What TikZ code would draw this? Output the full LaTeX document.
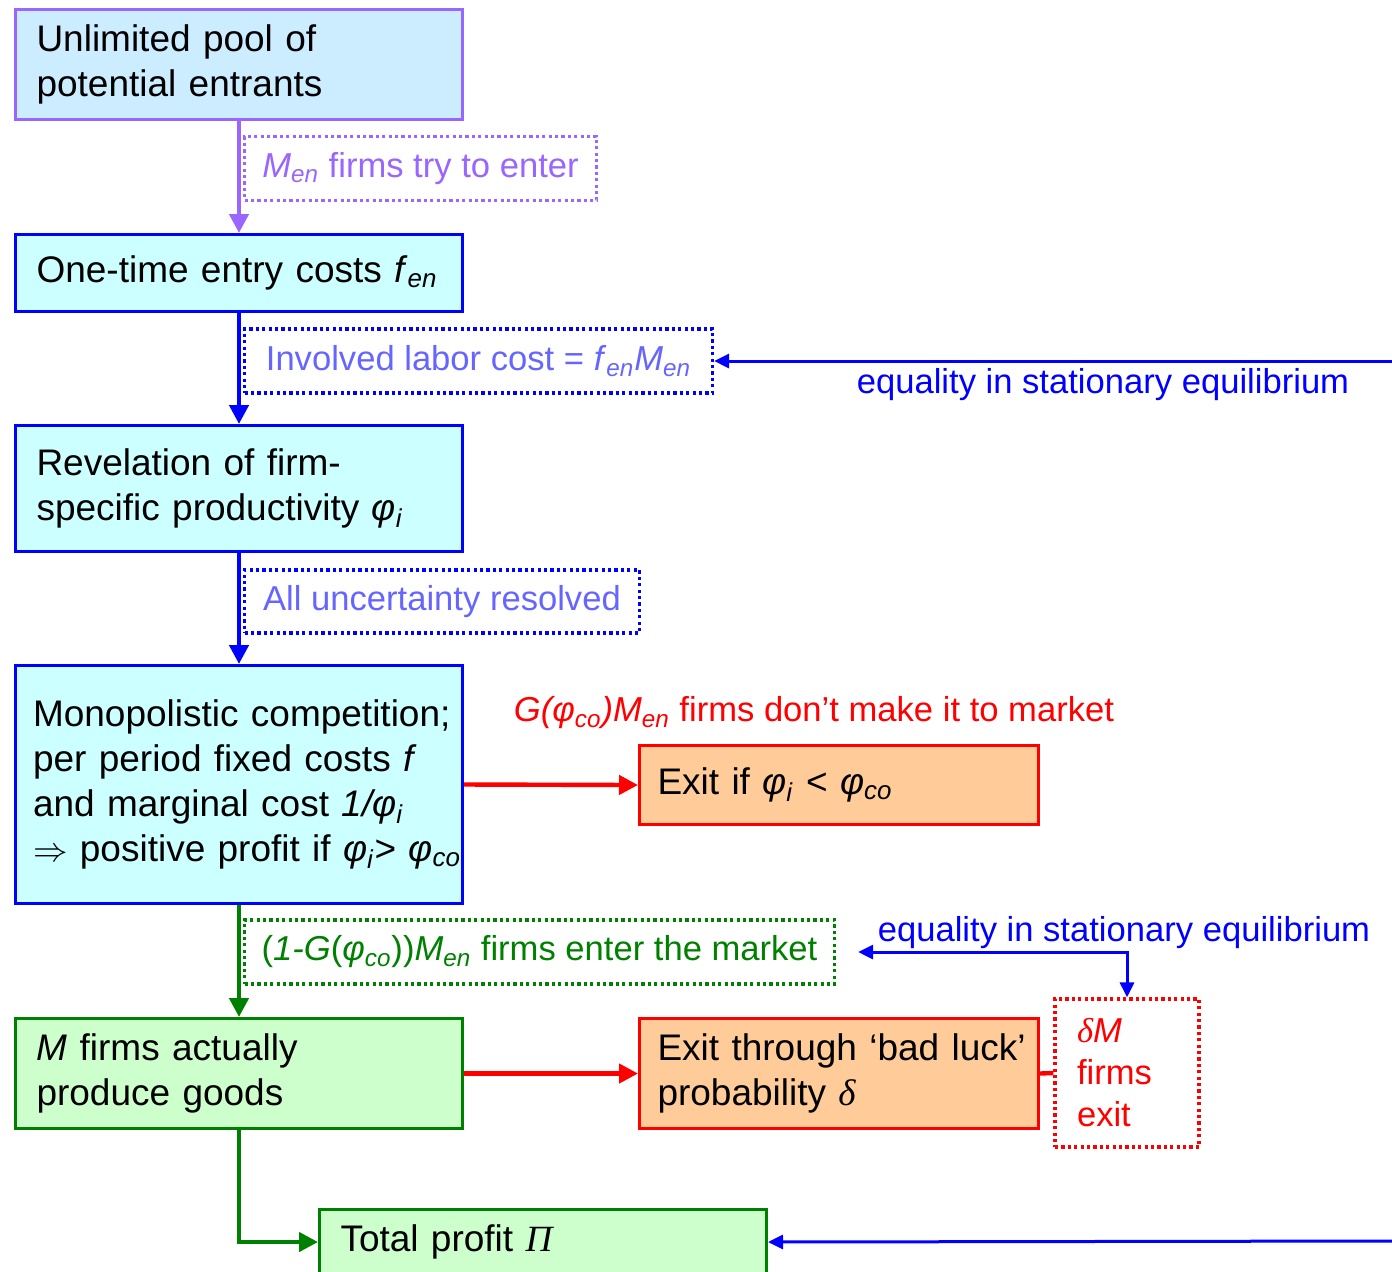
\documentclass[tikz,border=0pt]{standalone}
\usepackage{fontspec}
\setmainfont{Liberation Sans}
\newfontfamily\symfont{Liberation Serif}
\usetikzlibrary{arrows.meta}
\definecolor{lilac}{RGB}{153,102,255}
\definecolor{skyfill}{RGB}{204,236,255}
\definecolor{cyanfill}{RGB}{204,255,255}
\definecolor{mintfill}{RGB}{204,255,204}
\definecolor{peach}{RGB}{255,204,153}
\definecolor{paleblue}{RGB}{102,102,255}
\definecolor{leaf}{RGB}{0,128,0}
\newcommand{\idx}[1]{\textsubscript{\textit{#1}}}
\begin{document}
\begin{tikzpicture}[x=0.5pt,y=-0.5pt,
  stage/.style={draw,line width=1.5pt,minimum width=223.5pt,text width=202.5pt,inner xsep=10.5pt,align=left,font=\fontsize{18.5}{22.5}\selectfont},
  outcome/.style={stage,draw=red,fill=peach,minimum width=199.5pt,text width=181.5pt,inner xsep=9pt},
  note/.style={draw,line width=1.6pt,dash pattern=on 1.6pt off 1.6pt,inner xsep=0pt,font=\fontsize{17.3}{21}\selectfont},
  flow/.style={line width=2.2pt,-{Triangle[length=9.5pt,width=9.5pt]}},
  link/.style={line width=1.5pt,blue,-{Triangle[length=7.5pt,width=7pt]}}]
\useasboundingbox (0,0) rectangle (1392,1271);

\node[stage,draw=lilac,fill=skyfill,minimum height=55pt] (pool) at (239,64.5) {Unlimited pool of\\potential entrants};
\node[stage,draw=blue,fill=cyanfill,minimum height=38.5pt] (entry) at (239,273) {One-time entry costs \textit{f}\idx{en}};
\node[stage,draw=blue,fill=cyanfill,minimum height=63pt] (reveal) at (239,488.5) {Revelation of firm-\\specific productivity \textit{φ}\idx{i}};
\node[stage,draw=blue,fill=cyanfill,minimum height=119pt,text width=206pt,inner xsep=8.75pt] (mono) at (239,784.5) {\mbox{Monopolistic competition;}\\\mbox{per period fixed costs \textit{f}}\\\mbox{and marginal cost \textit{1/φ}\idx{i}}\\\mbox{$\Rightarrow$ positive profit if \textit{φ}\idx{i}> \textit{φ}\idx{co}}};
\node[stage,draw=leaf,fill=mintfill,minimum height=55pt] (active) at (239,1073.5) {\textit{M} firms actually\\produce goods};
\node[stage,draw=leaf,fill=mintfill,minimum height=32.5pt] (profit) at (543,1242) {Total profit {\symfont\itshape Π}};

\node[outcome,minimum height=39.5pt] (cutoff) at (839,785) {Exit if \textit{φ}\idx{i} < \textit{φ}\idx{co}};
\node[outcome,minimum height=55pt] (badluck) at (839,1073.5) {\mbox{Exit through ‘bad luck’}\\probability {\symfont\itshape δ}};
\node[note,draw=red,text=red,minimum width=72pt,minimum height=74pt,text width=50pt,inner xsep=11pt,align=left] (exitlbl) at (1127,1073) {{\symfont\itshape δ}\textit{M}\\firms\\exit};

\node[note,draw=lilac,text=lilac,minimum width=176pt,minimum height=32pt] (tryenter) at (420.5,168.5) {\textit{M}\idx{en} firms try to enter};
\node[note,draw=blue,text=paleblue,minimum width=234pt,minimum height=32pt] (laborcost) at (478.5,361) {Involved labor cost = \textit{f}\idx{en}\textit{M}\idx{en}};
\node[note,draw=blue,text=paleblue,minimum width=197.5pt,minimum height=31.5pt] (resolved) at (442,601.5) {All uncertainty resolved};
\node[note,draw=leaf,text=leaf,minimum width=295pt,minimum height=32pt] (enter) at (539.5,952) {(\textit{1-G}(\textit{φ}\idx{co}))\textit{M}\idx{en} firms enter the market};

\node[font=\fontsize{17.3}{21}\selectfont,text=red] (noentry) at (814,713) {\textit{G(φ}\idx{co}\textit{)M}\idx{en} firms don’t make it to market};
\node[font=\fontsize{17.3}{21}\selectfont,text=blue] (eqtop) at (1103,385) {equality in stationary equilibrium};
\node[font=\fontsize{17.3}{21}\selectfont,text=blue] (eqmid) at (1124,933) {equality in stationary equilibrium};

\coordinate (eqin) at (1392,361);
\coordinate (profitin) at (1392,1241);
\coordinate (eqtip) at ([xshift=11pt]enter.east);

\draw[flow,lilac] (pool.south) -- (entry.north);
\draw[flow,blue] (entry.south) -- (reveal.north);
\draw[flow,blue] (reveal.south) -- (mono.north);
\draw[flow,leaf] (mono.south) -- (active.north);
\draw[flow,leaf] (active.south) |- (profit.west);
\draw[flow,red] (mono.east) -- (cutoff.west);
\draw[flow,red] (active.east) -- (badluck.west);
\draw[line width=2.2pt,red] (badluck.east) -- (exitlbl.west);

\draw[link] (eqin) -- (laborcost.east);
\draw[link] (profitin) -- (profit.east);
\draw[link,{Triangle[length=7.5pt,width=7pt]}-{Triangle[length=7.5pt,width=7pt]}] (eqtip) -| (exitlbl.north);
\end{tikzpicture}
\end{document}
